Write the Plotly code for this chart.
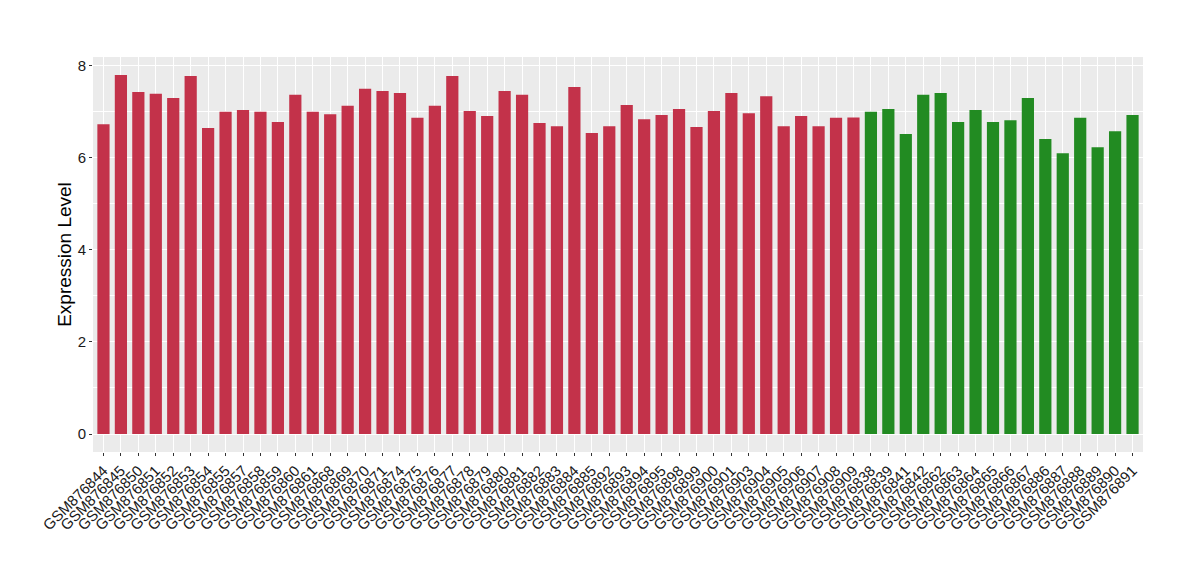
import plotly.graph_objects as go

red_samples = ["GSM876844", "GSM876845", "GSM876850", "GSM876851", "GSM876852", "GSM876853",
               "GSM876854", "GSM876855", "GSM876857", "GSM876858", "GSM876859", "GSM876860",
               "GSM876861", "GSM876868", "GSM876869", "GSM876870", "GSM876871", "GSM876874",
               "GSM876875", "GSM876876", "GSM876877", "GSM876878", "GSM876879", "GSM876880",
               "GSM876881", "GSM876882", "GSM876883", "GSM876884", "GSM876885", "GSM876892",
               "GSM876893", "GSM876894", "GSM876895", "GSM876898", "GSM876899", "GSM876900",
               "GSM876901", "GSM876903", "GSM876904", "GSM876905", "GSM876906", "GSM876907",
               "GSM876908", "GSM876909"]
red_values = [6.72, 7.79, 7.42, 7.38, 7.29, 7.77, 6.64, 6.99, 7.03, 6.99, 6.77, 7.36,
              6.99, 6.94, 7.12, 7.49, 7.44, 7.40, 6.86, 7.12, 7.77, 7.01, 6.90, 7.44,
              7.36, 6.75, 6.68, 7.53, 6.53, 6.68, 7.14, 6.83, 6.92, 7.05, 6.66, 7.01,
              7.40, 6.96, 7.33, 6.68, 6.90, 6.68, 6.86, 6.87]

green_samples = ["GSM876838", "GSM876839", "GSM876841", "GSM876842", "GSM876862", "GSM876863",
                 "GSM876864", "GSM876865", "GSM876866", "GSM876867", "GSM876886", "GSM876887",
                 "GSM876888", "GSM876889", "GSM876890", "GSM876891"]
green_values = [6.99, 7.05, 6.51, 7.36, 7.40, 6.77, 7.03, 6.77, 6.81, 7.29, 6.40, 6.09,
                6.86, 6.22, 6.57, 6.92]

y_ticks = [0, 2, 4, 6, 8]
y_minor = [1, 3, 5, 7]

all_samples = red_samples + green_samples

fig = go.Figure()
fig.add_trace(go.Bar(x=red_samples, y=red_values, marker=dict(color="#C3324A", line=dict(width=0)),
                     width=0.7, showlegend=False))
fig.add_trace(go.Bar(x=green_samples, y=green_values, marker=dict(color="#228B22", line=dict(width=0)),
                     width=0.7, showlegend=False))

fig.update_layout(
    width=1200, height=580,
    margin=dict(l=85, r=65, t=49, b=136, autoexpand=False),
    paper_bgcolor="white", plot_bgcolor="#EBEBEB",
    font=dict(family="Liberation Sans, Arial, sans-serif", color="#1A1A1A"),
    bargap=0.3,
)
fig.update_xaxes(
    type="category", categoryorder="array", categoryarray=all_samples,
    tickmode="array", tickvals=all_samples, ticktext=all_samples,
    range=[-0.6, len(all_samples) - 0.4],
    showgrid=True, gridcolor="white", gridwidth=1.2,
    tickangle=-45, tickfont=dict(size=15, color="#1A1A1A"),
    ticks="outside", ticklen=3, tickcolor="#333333", tickwidth=1,
    showline=False, zeroline=False, automargin=False,
)
fig.update_yaxes(
    range=[-0.39, 8.18], tickmode="array", tickvals=y_ticks,
    showgrid=True, gridcolor="white", gridwidth=1.2,
    minor=dict(tickvals=y_minor, showgrid=True, gridcolor="white", gridwidth=0.6, ticks=""),
    tickfont=dict(size=15, color="#1A1A1A"),
    ticks="outside", ticklen=3, tickcolor="#333333", tickwidth=1,
    title=dict(text="Expression Level", font=dict(size=19, color="black"), standoff=1),
    zeroline=False, showline=False, automargin=False,
)

fig.write_html("out.html")
